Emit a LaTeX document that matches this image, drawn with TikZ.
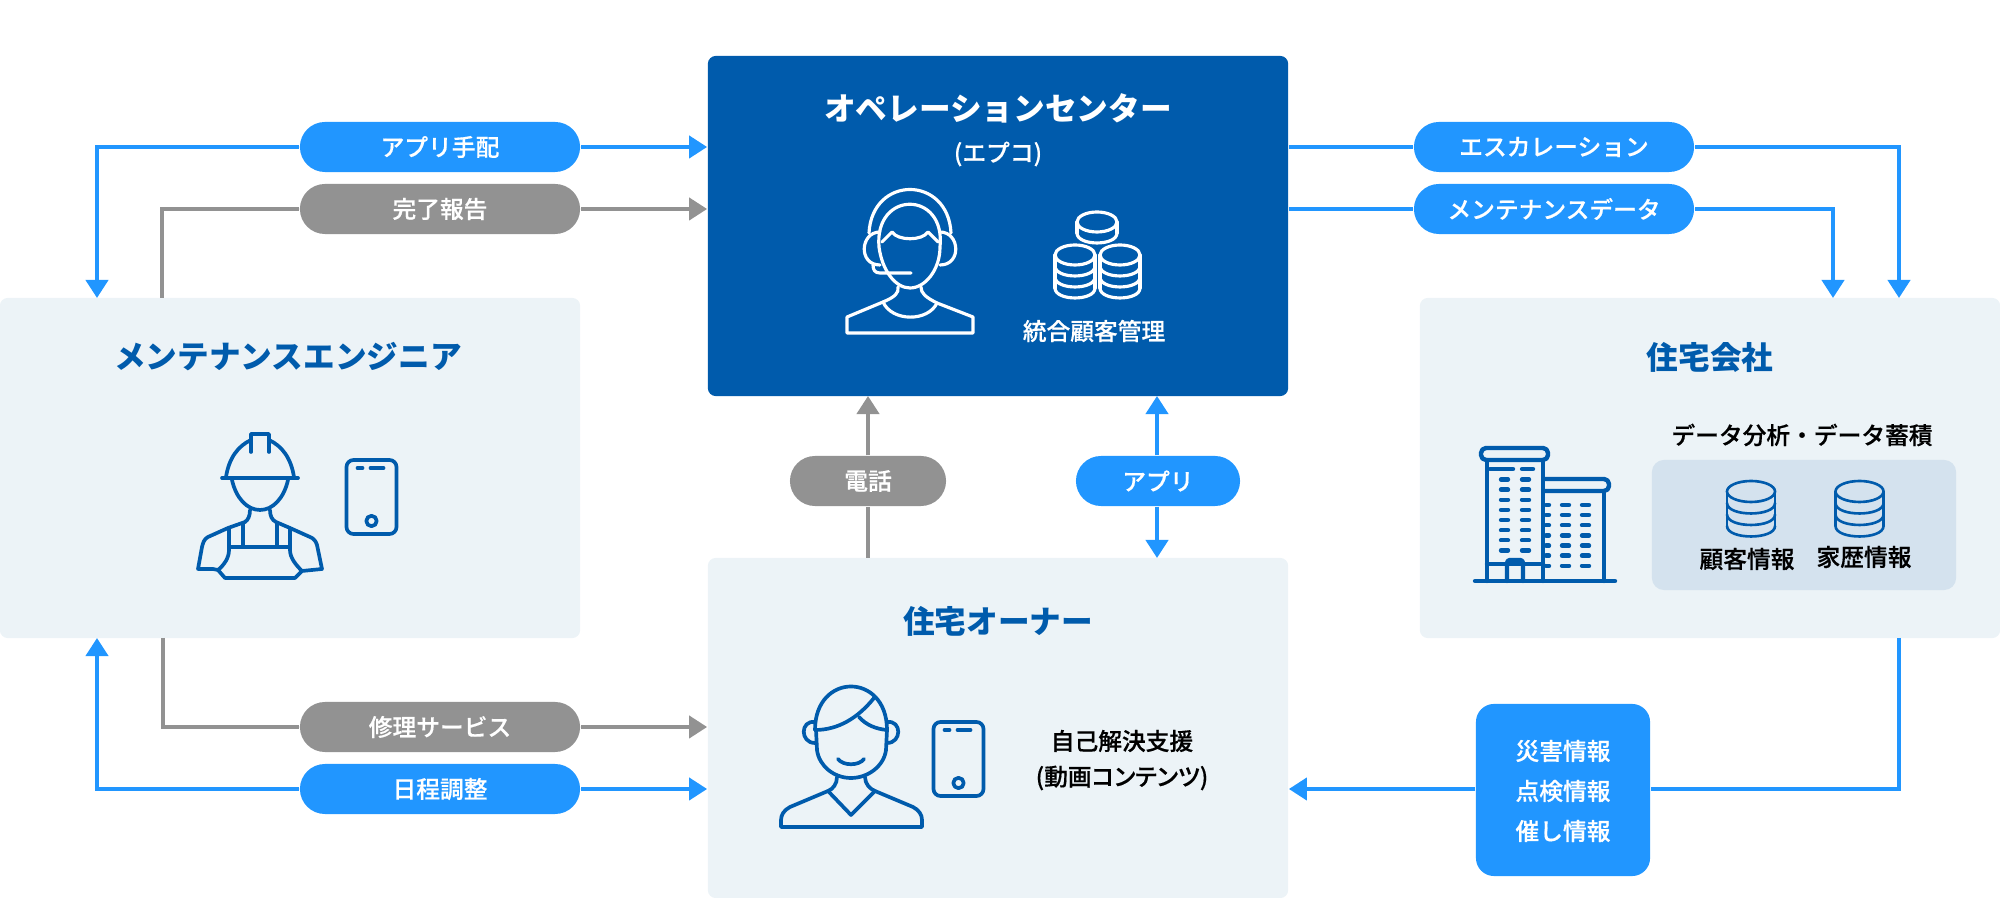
\documentclass[tikz,border=0pt]{standalone}
\usepackage{fontspec}
\setmainfont{Noto Sans CJK JP}
\newfontfamily\mediumfont[FakeBold=0.45]{Noto Sans CJK JP Medium}
\usetikzlibrary{arrows.meta,positioning,calc}

\definecolor{opsblue}{HTML}{005BAC}
\definecolor{flowblue}{HTML}{2196FF}
\definecolor{flowgray}{HTML}{929292}
\definecolor{panelbg}{HTML}{ECF3F7}
\definecolor{innerbg}{HTML}{D4E2EE}

\tikzset{
    panel/.style={fill=panelbg,rounded corners=0.08cm,inner sep=0pt},
    pill/.style={rounded corners=0.25cm,inner sep=0pt,minimum width=2.8cm,minimum height=0.5cm,text=white,font=\labelfont},
    bluepill/.style={pill,fill=flowblue},
    graypill/.style={pill,fill=flowgray},
    blueflow/.style={flowblue,line width=1.14pt},
    grayflow/.style={flowgray,line width=1.14pt},
    tip/.style={-{Triangle[length=0.18cm,width=0.22cm]}},
    headtext/.style={inner sep=0pt,text=opsblue,font=\titlefont},
    smalltext/.style={inner sep=0pt,font=\labelfont},
    iconline/.style={opsblue,line width=1.05pt,line join=round,line cap=round},
    whiteline/.style={white,line width=0.9pt,line join=round,line cap=round},
}
\newcommand{\titlefont}{\bfseries\fontsize{9}{11}\selectfont}
\newcommand{\labelfont}{\mediumfont\fontsize{6.75}{11.38}\selectfont}

% x, y of the top ellipse, rx, ry, layer height, layers, style
\newcommand{\dbicon}[7]{
    \draw[#7] (#1,#2) ellipse [x radius=#3,y radius=#4];
    \draw[#7] ({#1-#3},#2) -- ({#1-#3},{#2+#5*#6}) ({#1+#3},#2) -- ({#1+#3},{#2+#5*#6});
    \foreach \i in {1,...,#6} {
        \draw[#7] ({#1-#3},{#2+#5*\i}) .. controls ({#1-#3},{#2+#5*\i+1.33*#4}) and ({#1+#3},{#2+#5*\i+1.33*#4}) .. ({#1+#3},{#2+#5*\i});
    }
}
% centre of the phone
\newcommand{\phoneicon}[2]{
    \draw[iconline,rounded corners=0.07cm] ({#1-25},{#2-37}) rectangle ({#1+25},{#2+37});
    \draw[iconline] ({#1-14},{#2-29}) -- ({#1-9},{#2-29});
    \draw[iconline] ({#1-1},{#2-29}) -- ({#1+12},{#2-29});
    \draw[iconline] (#1,{#2+24}) circle (5.2);
}

\begin{document}
\begin{tikzpicture}[x=0.01cm,y=-0.01cm]
    \useasboundingbox (0,0) rectangle (2000,898);

    % Panels
    \node[fill=opsblue,rounded corners=0.08cm,inner sep=0pt,minimum width=5.8cm,minimum height=3.4cm] (ops) at (998,226) {};
    \node[panel,minimum width=5.8cm,minimum height=3.4cm] (engineer) at (290,468) {};
    \node[panel,minimum width=5.8cm,minimum height=3.4cm] (company) at (1710,468) {};
    \node[panel,minimum width=5.8cm,minimum height=3.4cm] (owner) at (998,728) {};
    \node[fill=innerbg,rounded corners=0.12cm,inner sep=0pt,minimum width=3.04cm,minimum height=1.3cm] (store) at (1804,525) {};

    % Free ends on the panels
    \coordinate (engtopa) at (97,298);
    \coordinate (engtopb) at (162,298);
    \coordinate (engbota) at (97,638);
    \coordinate (engbotb) at (163,638);
    \coordinate (cmptopa) at (1833,298);
    \coordinate (cmptopb) at (1899,298);
    \coordinate (cmpbot) at (1899,638);
    \coordinate (owntopa) at (868,558);
    \coordinate (owntopb) at (1157,558);
    \coordinate (opsbota) at (868,396);
    \coordinate (opsbotb) at (1157,396);

    % Labels on the flows
    \node[bluepill] (tehai) at (440,147) {アプリ手配};
    \node[graypill] (kanryo) at (440,209) {完了報告};
    \node[bluepill] (escal) at (1554,147) {エスカレーション};
    \node[bluepill] (mdata) at (1554,209) {メンテナンスデータ};
    \node[graypill,minimum width=1.56cm] (denwa) at (868,481) {電話};
    \node[bluepill,minimum width=1.64cm] (appli) at (1158,481) {アプリ};
    \node[graypill] (shuri) at (440,727) {修理サービス};
    \node[bluepill] (nittei) at (440,789) {日程調整};
    \node[fill=flowblue,rounded corners=0.18cm,inner sep=0pt,minimum width=1.74cm,minimum height=1.72cm] (saigai) at (1563,790) {};
    \node[inner sep=0pt,text=white,font=\labelfont,align=center] (saigaitext) at (1563,791) {災害情報\\点検情報\\催し情報};

    % Left side, top
    \draw[blueflow,tip] (tehai.west) -| (engtopa);
    \draw[blueflow,tip] (tehai.east) -- (tehai.east -| ops.west);
    \draw[grayflow] (engtopb) |- (kanryo.west);
    \draw[grayflow,tip] (kanryo.east) -- (kanryo.east -| ops.west);

    % Right side, top
    \draw[blueflow] (escal.west -| ops.east) -- (escal.west);
    \draw[blueflow,tip] (escal.east) -| (cmptopb);
    \draw[blueflow] (mdata.west -| ops.east) -- (mdata.west);
    \draw[blueflow,tip] (mdata.east) -| (cmptopa);

    % Between owner and centre
    \draw[grayflow] (owntopa) -- (denwa.south);
    \draw[grayflow,tip] (denwa.north) -- (opsbota);
    \draw[blueflow,tip] (appli.north -| opsbotb) -- (opsbotb);
    \draw[blueflow,tip] (appli.south -| owntopb) -- (owntopb);

    % Left side, bottom
    \draw[grayflow] (engbotb) |- (shuri.west);
    \draw[grayflow,tip] (shuri.east) -- (shuri.east -| owner.west);
    \draw[blueflow,tip] (nittei.west) -| (engbota);
    \draw[blueflow,tip] (nittei.east) -- (nittei.east -| owner.west);

    % Right side, bottom
    \draw[blueflow] (cmpbot) |- (saigai.east |- nittei.east);
    \draw[blueflow,tip] (saigai.west |- nittei.east) -- (nittei.east -| owner.east);

    % Centre texts
    \node[inner sep=0pt,text=white,font=\titlefont] (opstitle) at (998,108) {オペレーションセンター};
    \node[smalltext,text=white] (epco) at (998,154) {(エプコ)};
    \node[smalltext,text=white] (crm) at (1094,331) {統合顧客管理};

    % Operator
    \draw[whiteline] (879,247) .. controls (874,190) and (946,190) .. (940,247) .. controls (940,270) and (925,288) .. (910,288) .. controls (895,288) and (882,270) .. (879,247);
    \draw[whiteline] (869,233) .. controls (872,175) and (948,175) .. (951,233);
    \draw[whiteline] (880,232) .. controls (860,232) and (858,265) .. (880,265);
    \draw[whiteline] (940,232) .. controls (960,232) and (962,265) .. (940,265);
    \draw[whiteline] (873,265) .. controls (873,270) and (875,273) .. (880,273) -- (911,273);
    \draw[whiteline] (882,242) -- (892,232) .. controls (898,241) and (922,241) .. (928,232) -- (938,242);
    \draw[whiteline] (898,287) .. controls (899,293) and (895,297) .. (883,302) -- (847,317) -- (847,333) -- (973,333) -- (973,317) -- (937,303) .. controls (925,297) and (921,293) .. (921,287);
    \draw[whiteline] (883,302) .. controls (892,322) and (928,322) .. (937,303);
    \dbicon{1097}{222}{20}{10}{11}{1}{whiteline}
    \dbicon{1075}{255}{20}{10}{11}{3}{whiteline}
    \dbicon{1120}{255}{20}{10}{11}{3}{whiteline}

    % Engineer
    \node[headtext] (engtitle) at (288,357) {メンテナンスエンジニア};
    \draw[iconline] (222,478) -- (298,478);
    \draw[iconline] (226,477) .. controls (229,458) and (238,446) .. (251,440);
    \draw[iconline] (294,477) .. controls (291,458) and (282,446) .. (269,440);
    \draw[iconline] (251,452) -- (251,434) -- (269,434) -- (269,452);
    \draw[iconline] (232,480) .. controls (236,498) and (247,510) .. (260,510) .. controls (273,510) and (284,498) .. (288,480);
    \draw[iconline] (250,510) .. controls (250,516) and (248,520) .. (245,522) -- (228,528) -- (208,537) .. controls (204,539) and (203,543) .. (202,547) -- (198,569) -- (213,569) -- (218,570) -- (225,578) -- (295,578) -- (302,571) -- (322,569) -- (317,545) .. controls (316,541) and (313,538) .. (310,537) -- (290,528) -- (276,522) .. controls (272,520) and (270,516) .. (270,510);
    \draw[iconline] (229,528) -- (229,550) .. controls (229,558) and (224,565) .. (218,570);
    \draw[iconline] (290,528) -- (290,550) .. controls (290,558) and (296,565) .. (302,571);
    \draw[iconline] (243,523) -- (243,547) (277,523) -- (277,547) (229,547) -- (290,547);
    \phoneicon{371.5}{497}

    % Company
    \node[headtext] (cmptitle) at (1710,357) {住宅会社};
    \node[smalltext] (storetitle) at (1802,435) {データ分析・データ蓄積};
    \draw[iconline,line width=1.25pt] (1475,581) -- (1615,581);
    \draw[iconline,line width=1.25pt,rounded corners=0.05cm] (1481,448) rectangle (1548,460);
    \draw[iconline,line width=1.25pt,rounded corners=0.05cm] (1545,479) -- (1609,479) -- (1609,491) -- (1545,491);
    \draw[iconline,line width=1.25pt] (1487,460) -- (1487,581) (1543,460) -- (1543,581) (1604,491) -- (1604,581);
    \draw[iconline,line width=1.25pt] (1487,564) -- (1543,564);
    \draw[iconline,line width=1.25pt,rounded corners=0.03cm] (1507,581) -- (1507,560) -- (1523,560) -- (1523,581);
    \draw[iconline,line width=1.25pt] (1490,469) -- (1513,469) (1522,469) -- (1533,469);
    \foreach \y in {479.5,489.6,499.8,509.9,520,530.2,540.3,550.4} {
        \draw[iconline,line width=1.25pt] (1501,\y) -- (1508,\y) (1522,\y) -- (1529,\y);
    }
    \foreach \y in {505,515,525.3,535.5,545.6,555.7,565.8} {
        \draw[iconline,line width=1.25pt] (1546,\y) -- (1549,\y) (1562,\y) -- (1569,\y) (1582,\y) -- (1589,\y);
    }
    \dbicon{1751}{491.5}{24}{10.5}{11.5}{3}{iconline,line width=0.75pt}
    \dbicon{1859.5}{491.5}{24}{10.5}{11.5}{3}{iconline,line width=0.75pt}
    \node[smalltext] (kokyaku) at (1747,559) {顧客情報};
    \node[smalltext] (kareki) at (1864,557) {家歴情報};

    % Owner
    \node[headtext] (owntitle) at (998,621) {住宅オーナー};
    \draw[iconline] (815,730) .. controls (815,672) and (887,672) .. (887,730);
    \draw[iconline] (815,730) .. controls (838,730) and (858,718) .. (874,698);
    \draw[iconline] (859,717) .. controls (866,725) and (876,729) .. (887,730);
    \draw[iconline] (816,730) -- (817,750) .. controls (819,766) and (834,778) .. (851,778) .. controls (868,778) and (884,766) .. (886,750) -- (887,730);
    \draw[iconline] (815,722) .. controls (800,720) and (800,743) .. (815,743);
    \draw[iconline] (887,722) .. controls (902,720) and (902,743) .. (887,743);
    \draw[iconline] (838,759) .. controls (843,766) and (859,766) .. (864,759);
    \draw[iconline] (837,777) .. controls (837,784) and (833,789) .. (828,791) -- (790,807) .. controls (784,810) and (781,815) .. (781,820) -- (781,827) -- (922,827) -- (922,820) .. controls (922,815) and (919,810) .. (913,807) -- (875,791) .. controls (870,789) and (865,784) .. (865,777);
    \draw[iconline] (828,791) -- (851,815) -- (875,791);
    \phoneicon{958.5}{759}
    \node[smalltext] (jiko) at (1122,741) {自己解決支援};
    \node[smalltext,font=\labelfont\addfontfeature{RawFeature=+palt}] (doga) at (1122,778) {(動画コンテンツ)};
\end{tikzpicture}
\end{document}
